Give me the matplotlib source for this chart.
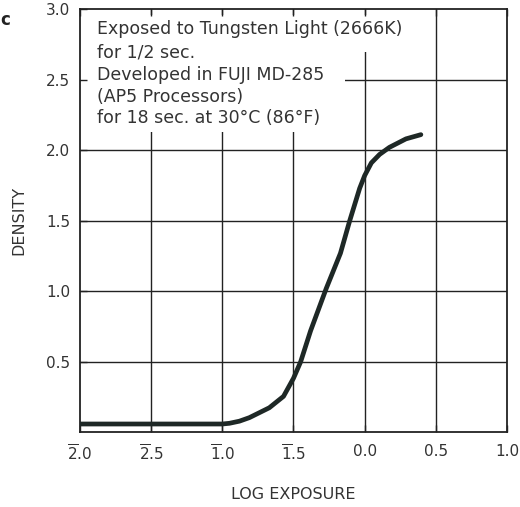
import matplotlib
matplotlib.use("Agg")
import matplotlib.pyplot as plt
from matplotlib.patches import Polygon

plt.rcParams['font.family'] = ['DejaVu Sans']
plt.rcParams['mathtext.fontset'] = 'dejavusans'

# ---- data ----
log_exposure = [-2.0, -1.0, -0.95, -0.88, -0.81, -0.74, -0.67, -0.57, -0.50, -0.45,
                -0.38, -0.27, -0.17, -0.105, -0.035, 0.0, 0.047, 0.105, 0.174, 0.29, 0.395]
density = [0.06, 0.06, 0.065, 0.08, 0.105, 0.14, 0.175, 0.256, 0.384, 0.5,
           0.72, 1.02, 1.27, 1.5, 1.73, 1.82, 1.91, 1.97, 2.02, 2.08, 2.11]

x_ticks = [-2.0, -1.5, -1.0, -0.5, 0.0, 0.5, 1.0]
x_tick_labels = [r'$\overline{2}$.0', r'$\overline{2}$.5', r'$\overline{1}$.0',
                 r'$\overline{1}$.5', '0.0', '0.5', '1.0']
y_ticks = [0.5, 1.0, 1.5, 2.0, 2.5, 3.0]
y_tick_labels = ['0.5', '1.0', '1.5', '2.0', '2.5', '3.0']

note_lines = ["Exposed to Tungsten Light (2666K)",
              "for 1/2 sec.",
              "Developed in FUJI MD-285",
              "(AP5 Processors)",
              "for 18 sec. at 30\u00b0C (86\u00b0F)"]

ink = '#222222'
text_c = '#333333'

fig = plt.figure(figsize=(5.2, 5.07), dpi=100)
ax = fig.add_axes([0.1538, 0.147, 0.8212, 0.8352])
ax.set_xlim(-2.0, 1.0)
ax.set_ylim(0.0, 3.0)

# grid lines drawn manually so the note block can mask them
for xv in x_ticks[1:-1]:
    ax.axvline(xv, color=ink, lw=1.0, zorder=1)
for yv in y_ticks[:-1]:
    ax.axhline(yv, color=ink, lw=1.0, zorder=1)

# white area behind the note text
mask = Polygon([(0.002, 0.986), (0.796, 0.986), (0.796, 0.898), (0.62, 0.898),
                (0.62, 0.709), (0.002, 0.709)], closed=True,
               transform=ax.transAxes, facecolor='white', edgecolor='none', zorder=2)
ax.add_patch(mask)

ax.plot(log_exposure, density, color='#1e2826', lw=3.4,
        solid_capstyle='round', solid_joinstyle='round', zorder=3)

ax.set_xticks(x_ticks)
ax.set_xticklabels(x_tick_labels)
ax.set_yticks(y_ticks)
ax.set_yticklabels(y_tick_labels)
ax.tick_params(axis='both', direction='in', length=5, width=1.0, color=ink,
               labelsize=11, labelcolor=text_c, top=True)
ax.tick_params(axis='x', pad=8)
ax.tick_params(axis='y', pad=7)
ax.set_axisbelow(False)
for sp in ax.spines.values():
    sp.set_color(ink)
    sp.set_linewidth(1.3)
    sp.set_zorder(2.6)

ax.set_xlabel('LOG EXPOSURE', fontsize=11.5, color=text_c, labelpad=17)
ax.set_ylabel('DENSITY', fontsize=11.5, color=text_c, labelpad=14)

ys = [0.953, 0.898, 0.844, 0.792, 0.742]
for line, yy in zip(note_lines, ys):
    ax.text(0.040, yy, line, transform=ax.transAxes, fontsize=12.5,
            color=text_c, va='center', ha='left', zorder=4)

fig.text(0.0, 0.960, 'c', fontsize=12, fontweight='bold', color=ink,
         ha='left', va='center')

fig.savefig('out.png', dpi=100)
